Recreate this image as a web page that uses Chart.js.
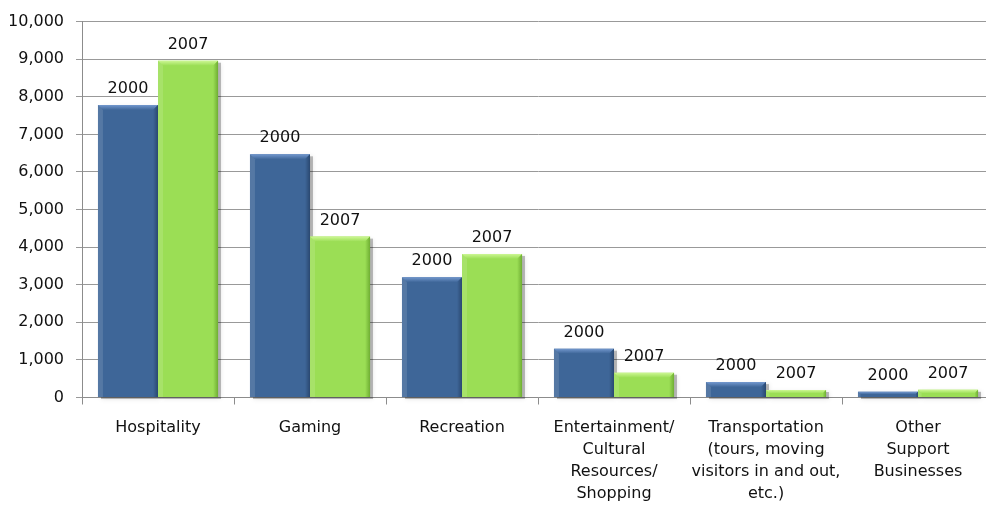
<!DOCTYPE html>
<html>
<head>
<meta charset="utf-8">
<title>Employment by sector, 2000 vs 2007</title>
<script src="https://cdn.jsdelivr.net/npm/chart.js@4.4.1/dist/chart.umd.min.js"></script>
<style>
    html, body { margin: 0; padding: 0; background: #fff; overflow: hidden; }
    #wrap { width: 1000px; height: 506px; }
</style>
</head>
<body>
<div id="wrap"><canvas id="sectorChart" width="1000" height="506"></canvas></div>
<script>
// categories (multi-line labels as on the x axis)
const categories = [
    ['Hospitality'],
    ['Gaming'],
    ['Recreation'],
    ['Entertainment/', 'Cultural', 'Resources/', 'Shopping'],
    ['Transportation', '(tours, moving', 'visitors in and out,', 'etc.)'],
    ['Other', 'Support', 'Businesses']
];
const seriesNames = ['2000', '2007'];
const values2000 = [7780, 6470, 3200, 1300, 410, 150];
const values2007 = [8960, 4280, 3820, 660, 200, 205];
const yTicks = [0, 1000, 2000, 3000, 4000, 5000, 6000, 7000, 8000, 9000, 10000];

const FONT = 'DejaVu Sans';
const FSIZE = 16;
const palette = [
    { face: '#3e6698', light: '#7398ce', dark: '#2a4870' },
    { face: '#9bde55', light: '#cdf795', dark: '#6fae33' }
];

// soft drop shadow behind every bar
const barShadow = {
    id: 'barShadow',
    beforeDatasetsDraw(chart) {
        const ctx = chart.ctx;
        ctx.save();
        ctx.fillStyle = 'rgba(0,0,0,0.25)';
        ctx.shadowColor = 'rgba(0,0,0,0.45)';
        ctx.shadowBlur = 5;
        chart.data.datasets.forEach((ds, i) => {
            chart.getDatasetMeta(i).data.forEach(bar => {
                const p = bar.getProps(['x', 'y', 'base', 'width'], true);
                ctx.fillRect(p.x - p.width / 2 + 3, p.y + 2, p.width, p.base - p.y);
            });
        });
        ctx.restore();
    }
};

// bevel edges + year labels on top
const barBevel = {
    id: 'barBevel',
    afterDatasetsDraw(chart) {
        const ctx = chart.ctx;
        ctx.save();
        chart.data.datasets.forEach((ds, i) => {
            const col = palette[i];
            chart.getDatasetMeta(i).data.forEach(bar => {
                const p = bar.getProps(['x', 'y', 'base', 'width'], true);
                const l = p.x - p.width / 2, r = p.x + p.width / 2;
                const t = p.y, b = p.base;
                const bv = Math.min(5, (b - t) / 2);

                // top bevel
                const g = ctx.createLinearGradient(0, t, 0, t + bv);
                g.addColorStop(0, col.light);
                g.addColorStop(1, col.face);
                ctx.fillStyle = g;
                ctx.beginPath();
                ctx.moveTo(l, t); ctx.lineTo(r, t);
                ctx.lineTo(r - bv, t + bv); ctx.lineTo(l + bv, t + bv);
                ctx.closePath(); ctx.fill();

                // right side darker
                const gr = ctx.createLinearGradient(r - bv, 0, r, 0);
                gr.addColorStop(0, col.face);
                gr.addColorStop(1, col.dark);
                ctx.fillStyle = gr;
                ctx.beginPath();
                ctx.moveTo(r, t); ctx.lineTo(r, b);
                ctx.lineTo(r - bv, b); ctx.lineTo(r - bv, t + bv);
                ctx.closePath(); ctx.fill();

                // left side a touch lighter
                ctx.fillStyle = 'rgba(255,255,255,0.12)';
                ctx.beginPath();
                ctx.moveTo(l, t); ctx.lineTo(l + bv, t + bv);
                ctx.lineTo(l + bv, b); ctx.lineTo(l, b);
                ctx.closePath(); ctx.fill();

                // label
                ctx.fillStyle = '#111';
                ctx.font = FSIZE + 'px "' + FONT + '"';
                ctx.textAlign = 'center';
                ctx.textBaseline = 'middle';
                ctx.fillText(ds.label, p.x, t - 16);
            });
        });
        ctx.restore();
    }
};

const ctx = document.getElementById('sectorChart');
new Chart(ctx, {
    type: 'bar',
    data: {
        labels: categories,
        datasets: [
            { label: seriesNames[0], data: values2000, backgroundColor: palette[0].face },
            { label: seriesNames[1], data: values2007, backgroundColor: palette[1].face }
        ]
    },
    options: {
        responsive: false,
        animation: false,
        events: [],
        layout: { padding: { left: 10, right: 6, top: 20, bottom: 0 } },
        datasets: {
            bar: { categoryPercentage: 0.79, barPercentage: 1.0, borderWidth: 0 }
        },
        plugins: {
            legend: { display: false },
            tooltip: { enabled: false }
        },
        scales: {
            x: {
                afterFit: axis => { axis.height = 108.5; },
                grid: {
                    offset: true,
                    drawOnChartArea: false,
                    drawTicks: true,
                    tickLength: 7,
                    color: '#8c8c8c'
                },
                border: { color: '#8c8c8c', width: 1 },
                ticks: {
                    color: '#111',
                    padding: 12,
                    maxRotation: 0,
                    autoSkip: false,
                    font: { family: FONT, size: FSIZE, lineHeight: 1.38 }
                }
            },
            y: {
                min: 0,
                max: 10000,
                afterFit: axis => { axis.width = 72; },
                afterBuildTicks: axis => { axis.ticks = yTicks.map(v => ({ value: v })); },
                grid: { color: '#999999', tickLength: 6 },
                border: { color: '#8c8c8c', width: 1 },
                ticks: {
                    color: '#111',
                    padding: 12,
                    font: { family: FONT, size: FSIZE },
                    callback: v => v.toLocaleString('en-US')
                }
            }
        }
    },
    plugins: [barShadow, barBevel]
});
</script>
</body>
</html>
